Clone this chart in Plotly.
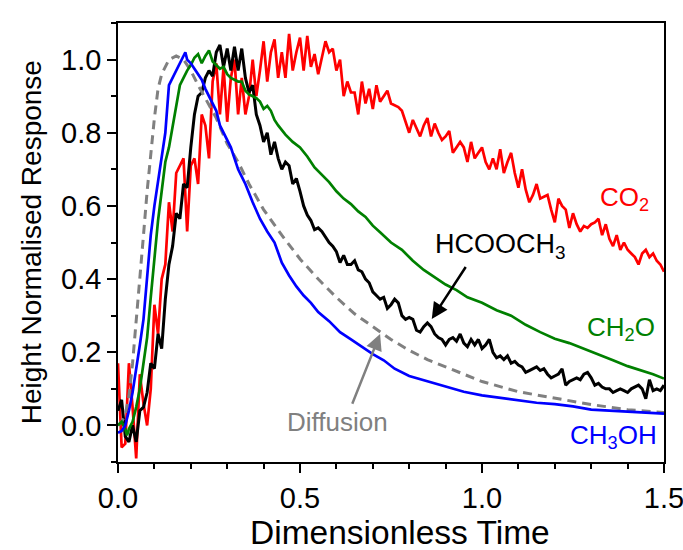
import plotly.graph_objects as go

# ---- Data ----
diff_t = [0, 0.01, 0.02, 0.03, 0.04, 0.05, 0.06, 0.07, 0.08, 0.09, 0.10, 0.11, 0.12, 0.14, 0.16,
          0.18, 0.20, 0.22, 0.24, 0.27, 0.30, 0.33, 0.36, 0.40, 0.45, 0.50, 0.55, 0.60, 0.65, 0.70,
          0.75, 0.80, 0.85, 0.90, 0.95, 1.0, 1.1, 1.2, 1.3, 1.4, 1.5]
diff_y = [0.0, 0.01, 0.03, 0.08, 0.17, 0.28, 0.40, 0.52, 0.64, 0.75, 0.84, 0.92, 0.96, 1.0, 1.01,
          1.0, 0.97, 0.93, 0.895, 0.84, 0.77, 0.72, 0.66, 0.59, 0.52, 0.455, 0.40, 0.35, 0.305, 0.27,
          0.235, 0.205, 0.18, 0.16, 0.14, 0.12, 0.092, 0.075, 0.057, 0.043, 0.035]

ch3oh_t = [0.0, 0.01, 0.02, 0.03, 0.04, 0.05, 0.06, 0.07, 0.08, 0.09, 0.10, 0.11, 0.12, 0.13, 0.14,
           0.15, 0.16, 0.17, 0.18, 0.185, 0.19, 0.20, 0.21, 0.22, 0.23, 0.24, 0.25, 0.26, 0.27, 0.28,
           0.29, 0.30, 0.31, 0.32, 0.33, 0.34, 0.35, 0.37, 0.39, 0.41, 0.43, 0.45, 0.47, 0.49, 0.51,
           0.53, 0.55, 0.58, 0.61, 0.64, 0.67, 0.70, 0.73, 0.76, 0.80, 0.85, 0.90, 0.95, 1.0, 1.05,
           1.10, 1.15, 1.20, 1.25, 1.30, 1.35, 1.40, 1.45, 1.50]
ch3oh_y = [-0.02, -0.015, 0.0, 0.04, 0.09, 0.15, 0.22, 0.29, 0.40, 0.52, 0.60, 0.67, 0.73, 0.80, 0.93,
           0.95, 0.97, 0.99, 1.01, 1.02, 1.0, 0.99, 0.975, 0.96, 0.945, 0.92, 0.90, 0.88, 0.86, 0.82,
           0.80, 0.78, 0.76, 0.73, 0.70, 0.68, 0.66, 0.61, 0.565, 0.53, 0.50, 0.445, 0.41, 0.38, 0.355,
           0.335, 0.31, 0.285, 0.255, 0.235, 0.215, 0.195, 0.178, 0.155, 0.135, 0.12, 0.105, 0.092, 0.082, 0.075,
           0.067, 0.062, 0.058, 0.052, 0.043, 0.04, 0.036, 0.034, 0.032]

ch2o_t = [0, 0.01, 0.02, 0.025, 0.03, 0.04, 0.05, 0.06, 0.07, 0.08, 0.09, 0.10, 0.11, 0.12, 0.13,
          0.14, 0.15, 0.16, 0.17, 0.18, 0.19, 0.20, 0.21, 0.22, 0.23, 0.24, 0.25, 0.26, 0.27, 0.28,
          0.29, 0.30, 0.31, 0.32, 0.33, 0.34, 0.35, 0.36, 0.37, 0.38, 0.39, 0.40, 0.41, 0.42, 0.43,
          0.44, 0.46, 0.48, 0.50, 0.52, 0.54, 0.56, 0.58, 0.60, 0.62, 0.64, 0.66, 0.68, 0.70, 0.72,
          0.75, 0.78, 0.81, 0.84, 0.87, 0.90, 0.93, 0.96, 1.0, 1.04, 1.08, 1.12, 1.16, 1.20, 1.24,
          1.28, 1.32, 1.36, 1.40, 1.44, 1.47, 1.5]
ch2o_y = [0.0, 0.01, -0.01, -0.027, -0.01, 0.01, 0.05, 0.10, 0.17, 0.24, 0.35, 0.46, 0.56, 0.64, 0.72,
          0.76, 0.82, 0.88, 0.93, 0.95, 0.97, 0.985, 1.005, 1.015, 0.99, 1.01, 1.025, 0.995, 0.985, 0.975,
          0.98, 0.96, 0.95, 0.945, 0.94, 0.94, 0.915, 0.905, 0.90, 0.895, 0.885, 0.865, 0.873, 0.86, 0.835,
          0.82, 0.795, 0.775, 0.76, 0.735, 0.705, 0.685, 0.665, 0.64, 0.62, 0.605, 0.585, 0.57, 0.546, 0.528,
          0.50, 0.48, 0.45, 0.425, 0.405, 0.385, 0.37, 0.35, 0.335, 0.315, 0.30, 0.275, 0.255, 0.237, 0.225,
          0.21, 0.195, 0.178, 0.162, 0.15, 0.14, 0.128]

hcooch3_t = [round(i * 0.01, 2) for i in range(151)]
hcooch3_y = [0.04, 0.07, -0.03, -0.045, 0.0, -0.045, 0.04, 0.05, 0.09, 0.17,
             0.155, 0.25, 0.21, 0.345, 0.44, 0.49, 0.58, 0.565, 0.66, 0.65,
             0.76, 0.85, 0.90, 0.91, 0.95, 0.97, 0.955, 1.02, 1.04, 0.98,
             1.03, 0.97, 1.035, 0.97, 1.03, 0.95, 0.91, 0.93, 0.85, 0.82,
             0.775, 0.80, 0.74, 0.775, 0.73, 0.70, 0.72, 0.71, 0.66, 0.675,
             0.64, 0.60, 0.575, 0.56, 0.535, 0.54, 0.53, 0.515, 0.50, 0.49,
             0.475, 0.445, 0.465, 0.44, 0.44, 0.45, 0.425, 0.42, 0.40, 0.39,
             0.365, 0.355, 0.345, 0.35, 0.32, 0.33, 0.345, 0.335, 0.30, 0.29,
             0.295, 0.29, 0.26, 0.255, 0.27, 0.28, 0.27, 0.25, 0.24, 0.235,
             0.22, 0.235, 0.24, 0.23, 0.25, 0.225, 0.215, 0.235, 0.22, 0.235,
             0.21, 0.22, 0.235, 0.20, 0.185, 0.19, 0.18, 0.19, 0.17, 0.175,
             0.165, 0.16, 0.145, 0.15, 0.155, 0.16, 0.15, 0.155, 0.14, 0.13,
             0.135, 0.14, 0.155, 0.11, 0.12, 0.125, 0.13, 0.125, 0.14, 0.145,
             0.13, 0.11, 0.115, 0.105, 0.10, 0.10, 0.09, 0.095, 0.10, 0.095,
             0.09, 0.10, 0.105, 0.11, 0.10, 0.073, 0.125, 0.095, 0.10, 0.095,
             0.11]

co2_t = [round(i * 0.01, 2) for i in range(151)]
co2_y = [0.17, -0.06, -0.05, 0.17, 0.05, -0.09, 0.14, 0.06, 0.0, 0.10,
         0.33, 0.25, 0.40, 0.44, 0.61, 0.53, 0.69, 0.71, 0.73, 0.53,
         0.71, 0.73, 0.66, 0.85, 0.82, 0.73, 0.94, 0.99, 0.85, 0.98,
         0.83, 0.95, 1.0, 0.85, 0.95, 0.85, 0.90, 1.0, 0.90, 0.97,
         1.05, 0.94, 1.02, 1.055, 0.95, 1.02, 0.95, 1.07, 0.97, 1.02,
         1.06, 0.97, 1.065, 0.98, 1.015, 0.96, 1.01, 1.05, 1.02, 1.03,
         0.97, 1.0, 0.90, 0.94, 0.91, 0.91, 0.85, 0.94, 0.88, 0.92,
         0.865, 0.93, 0.885, 0.90, 0.915, 0.88, 0.875, 0.87, 0.86, 0.83,
         0.80, 0.835, 0.81, 0.79, 0.82, 0.84, 0.79, 0.825, 0.80, 0.78,
         0.79, 0.805, 0.745, 0.76, 0.775, 0.76, 0.72, 0.775, 0.73, 0.745,
         0.76, 0.72, 0.70, 0.73, 0.70, 0.755, 0.69, 0.72, 0.745, 0.69,
         0.65, 0.70, 0.645, 0.61, 0.63, 0.66, 0.62, 0.625, 0.63, 0.59,
         0.555, 0.62, 0.60, 0.59, 0.54, 0.58, 0.55, 0.53, 0.545, 0.54,
         0.55, 0.555, 0.565, 0.52, 0.55, 0.51, 0.49, 0.52, 0.48, 0.50,
         0.48, 0.47, 0.46, 0.44, 0.47, 0.48, 0.46, 0.47, 0.45, 0.44,
         0.42]

x_ticks = [0.0, 0.5, 1.0, 1.5]
y_ticks = [0.0, 0.2, 0.4, 0.6, 0.8, 1.0]

FONT = "Liberation Sans"

fig = go.Figure()
fig.add_trace(go.Scatter(x=co2_t, y=co2_y, mode="lines", line=dict(color="#ff0000", width=2.7), name="CO2"))
fig.add_trace(go.Scatter(x=hcooch3_t, y=hcooch3_y, mode="lines", line=dict(color="#000000", width=3), name="HCOOCH3"))
fig.add_trace(go.Scatter(x=diff_t, y=diff_y, mode="lines", line=dict(color="#808080", width=3, dash="9px,6px"), name="Diffusion"))
fig.add_trace(go.Scatter(x=ch2o_t, y=ch2o_y, mode="lines", line=dict(color="#008000", width=2.7), name="CH2O"))
fig.add_trace(go.Scatter(x=ch3oh_t, y=ch3oh_y, mode="lines", line=dict(color="#0000ff", width=2.7), name="CH3OH"))

axis_common = dict(
    showline=True, linecolor="black", linewidth=1.5, mirror=True,
    ticks="outside", ticklen=9, tickwidth=1.5, tickcolor="black",
    showgrid=False, zeroline=False, automargin=False, ticklabeloverflow="allow",
    tickfont=dict(family=FONT, size=29, color="black"),
)

fig.update_xaxes(range=[0, 1.5], tickvals=x_ticks, ticktext=[f"{v:.1f}" for v in x_ticks],
                 minor=dict(ticks="outside", ticklen=5, tickwidth=1.5, tickcolor="black", dtick=0.1, tick0=0, showgrid=False),
                 **axis_common)
fig.update_yaxes(range=[-0.1, 1.1], tickvals=y_ticks, ticktext=[f"{v:.1f}" for v in y_ticks],
                 minor=dict(ticks="outside", ticklen=5, tickwidth=1.5, tickcolor="black", dtick=0.1, tick0=0, showgrid=False),
                 **axis_common)

annotations = [
    # axis titles
    dict(x=0.516, y=-0.205, xref="paper", yref="paper", text="Dimensionless Time", showarrow=False,
         font=dict(family=FONT, size=33.5, color="black"), xanchor="center", yanchor="bottom", borderpad=0),
    dict(x=-0.158, y=0.5, xref="paper", yref="paper", text="Height Normalised Response", showarrow=False,
         textangle=-90, font=dict(family=FONT, size=28, color="black"), xanchor="center", yanchor="middle"),
    # series labels
    dict(x=1.32, y=0.62, text="CO<sub>2</sub>", showarrow=False, font=dict(family=FONT, size=26, color="#ff0000"), xanchor="left", yanchor="middle"),
    dict(x=1.284, y=0.265, text="CH<sub>2</sub>O", showarrow=False, font=dict(family=FONT, size=26, color="#008000"), xanchor="left", yanchor="middle"),
    dict(x=1.235, y=-0.03, text="CH<sub>3</sub>OH", showarrow=False, font=dict(family=FONT, size=26, color="#0000ff"), xanchor="left", yanchor="middle"),
    dict(x=0.865, y=0.49, text="HCOOCH<sub>3</sub>", showarrow=False, font=dict(family=FONT, size=27, color="#000000"), xanchor="left", yanchor="middle"),
    dict(x=0.46, y=0.008, text="Diffusion", showarrow=False, font=dict(family=FONT, size=26, color="#808080"), xanchor="left", yanchor="middle"),
    # arrows
    dict(x=0.862, y=0.291, ax=0.958, ay=0.437, xref="x", yref="y", axref="x", ayref="y",
         showarrow=True, arrowhead=2, arrowsize=1.3, arrowwidth=2.5, arrowcolor="#000000", text=""),
    dict(x=0.72, y=0.25, ax=0.642, ay=0.055, xref="x", yref="y", axref="x", ayref="y",
         showarrow=True, arrowhead=2, arrowsize=1.3, arrowwidth=2.5, arrowcolor="#808080", text=""),
]

fig.update_layout(
    width=683, height=550,
    margin=dict(l=118, r=19, t=23, b=88),
    paper_bgcolor="white", plot_bgcolor="white",
    showlegend=False,
    annotations=annotations,
    font=dict(family=FONT, color="black"),
)

fig.write_html("out.html", config={"displayModeBar": False},
               post_script="document.body.style.margin='0';document.body.style.padding='0';")
